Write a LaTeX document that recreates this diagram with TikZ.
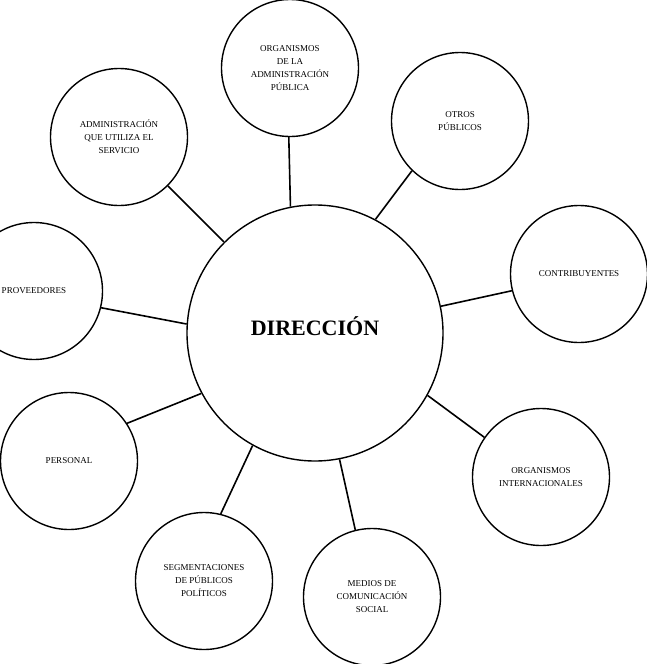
\documentclass[tikz,border=0pt]{standalone}
\usepackage{fontspec}
\setmainfont{Liberation Serif}

\begin{document}
\begin{tikzpicture}[x=1pt,y=-1pt,
  centro/.style={circle,draw,line width=1.4pt,minimum size=256pt,inner sep=0pt,
    text depth=13pt,font=\bfseries\fontsize{22}{26}\selectfont},
  publico/.style={circle,draw,line width=1.4pt,minimum size=137pt,inner sep=0pt,
    align=center,font=\fontsize{9}{13}\selectfont},
  enlace/.style={line width=1.6pt}]
  \useasboundingbox (0,0) rectangle (647,664);
  \node[centro] (dir) at (315,333) {DIRECCIÓN};
  \node[publico] (orgadm) at (290,68) {ORGANISMOS\\DE LA\\ADMINISTRACIÓN\\PÚBLICA};
  \node[publico] (otros) at (460,121) {OTROS\\PÚBLICOS};
  \node[publico] (contrib) at (579,274) {CONTRIBUYENTES};
  \node[publico] (orgint) at (541,477) {ORGANISMOS\\INTERNACIONALES};
  \node[publico] (medios) at (372,597) {MEDIOS DE\\COMUNICACIÓN\\SOCIAL};
  \node[publico] (segm) at (204,581) {SEGMENTACIONES\\DE PÚBLICOS\\POLÍTICOS};
  \node[publico] (personal) at (69,461) {PERSONAL};
  \node[publico] (prov) at (34,291) {PROVEEDORES};
  \node[publico] (admserv) at (119,137) {ADMINISTRACIÓN\\QUE UTILIZA EL\\SERVICIO};
  % enlaces con la direccion
  \draw[enlace] (orgadm.269) -- (dir.101);
  \draw[enlace] (otros.226) -- (dir.62);
  \draw[enlace] (contrib.194) -- (dir.12);
  \draw[enlace] (orgint.145) -- (dir.331);
  \draw[enlace] (medios.104) -- (dir.281);
  \draw[enlace] (segm.76) -- (dir.241);
  \draw[enlace] (personal.33) -- (dir.208);
  \draw[enlace] (prov.346) -- (dir.176);
  \draw[enlace] (admserv.315) -- (dir.135);
\end{tikzpicture}
\end{document}
